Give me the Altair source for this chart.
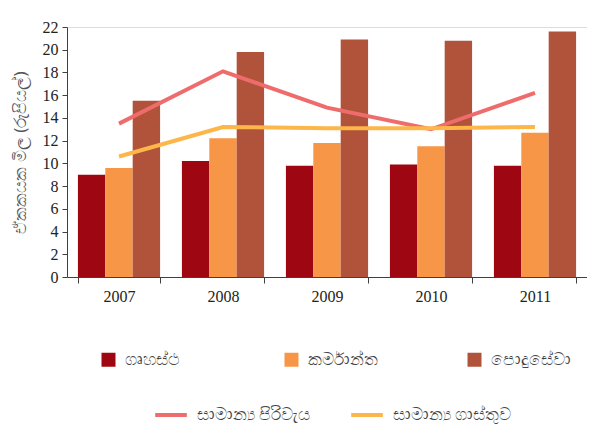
import altair as alt
import pandas as pd

years = ["2007", "2008", "2009", "2010", "2011"]
bar_series = ["ගෘහස්ථ", "කර්මාන්ත", "පොදුසේවා"]
household = [9.0, 10.2, 9.8, 9.9, 9.8]
industry = [9.6, 12.2, 11.8, 11.5, 12.7]
public = [15.5, 19.8, 20.9, 20.8, 21.6]

line_series = ["සාමාන්‍ය පිරිවැය", "සාමාන්‍ය ගාස්තුව"]
avg_cost = [13.5, 18.1, 14.9, 13.0, 16.2]
avg_tariff = [10.6, 13.2, 13.1, 13.1, 13.2]

y_ticks = [0, 2, 4, 6, 8, 10, 12, 14, 16, 18, 20, 22]
y_title = "ඒකකයක මිල (රුපියල්)"

bar_colors = ["#9E0711", "#F79646", "#B1523A"]
line_colors = ["#EF6C6C", "#FCB649"]

bars_rows = []
for s, vals in zip(bar_series, [household, industry, public]):
    for y, v in zip(years, vals):
        bars_rows.append({"year": y, "series": s, "value": v})
bars_df = pd.DataFrame(bars_rows)

line_rows = []
for s, vals in zip(line_series, [avg_cost, avg_tariff]):
    for y, v in zip(years, vals):
        line_rows.append({"year": y, "line": s, "value": v})
line_df = pd.DataFrame(line_rows)

x_enc = alt.X(
    "year:N",
    sort=years,
    title=None,
    scale=alt.Scale(paddingInner=0.21, paddingOuter=0.105),
    axis=alt.Axis(
        tickBand="extent",
        labelFont="Liberation Serif",
        labelFontSize=16,
        labelColor="#222222",
        labelPadding=5,
        labelAngle=0,
        domainColor="#404040",
        tickColor="#404040",
        tickSize=6,
    ),
)
y_axis = alt.Axis(
    values=y_ticks,
    tickCount=12,
    labelOverlap=False,
    grid=False,
    labelFont="Liberation Serif",
    labelFontSize=16,
    labelColor="#222222",
    labelPadding=4,
    tickSize=5,
    domainColor="#404040",
    tickColor="#404040",
    titleFont="Noto Sans",
    titleFontSize=17,
    titleFontWeight="normal",
    titleColor="#555555",
    titlePadding=13,
)
y_enc = alt.Y(
    "value:Q",
    title=y_title,
    scale=alt.Scale(domain=[0, 22], nice=False),
    axis=y_axis,
)

bars = alt.Chart(bars_df).mark_bar().encode(
    x=x_enc,
    y=y_enc,
    xOffset=alt.XOffset("series:N", sort=bar_series),
    color=alt.Color(
        "series:N",
        sort=bar_series,
        scale=alt.Scale(domain=bar_series, range=bar_colors),
        legend=alt.Legend(
            title=None,
            orient="none",
            legendX=33,
            legendY=324,
            padding=0,
            direction="horizontal",
            columns=3,
            gridAlign="all",
            columnPadding=78,
            symbolType="square",
            symbolSize=196,
            symbolStrokeWidth=0,
            labelFont="Noto Sans",
            labelFontSize=17,
            labelColor="#444444",
            labelOffset=8,
        ),
    ),
)

lines = alt.Chart(line_df).mark_line(strokeWidth=4).encode(
    x=x_enc,
    y=y_enc,
    stroke=alt.Stroke(
        "line:N",
        sort=line_series,
        scale=alt.Scale(domain=line_series, range=line_colors),
        legend=alt.Legend(
            title=None,
            orient="none",
            legendX=86,
            legendY=370,
            padding=0,
            direction="horizontal",
            columns=2,
            columnPadding=32,
            symbolType="stroke",
            symbolSize=1000,
            symbolStrokeWidth=4,
            labelFont="Noto Sans",
            labelFontSize=17,
            labelColor="#444444",
            labelOffset=8,
        ),
    ),
)

chart = (
    alt.layer(bars, lines)
    .properties(
        width=520,
        height=250,
        autosize=alt.AutoSizeParams(type="none"),
        padding={"top": 19, "left": 59, "right": 0, "bottom": 156},
    )
    .configure_view(stroke=None)
    .configure(background="white")
)

chart.save("out.html", embed_options={"renderer": "svg", "actions": False})
